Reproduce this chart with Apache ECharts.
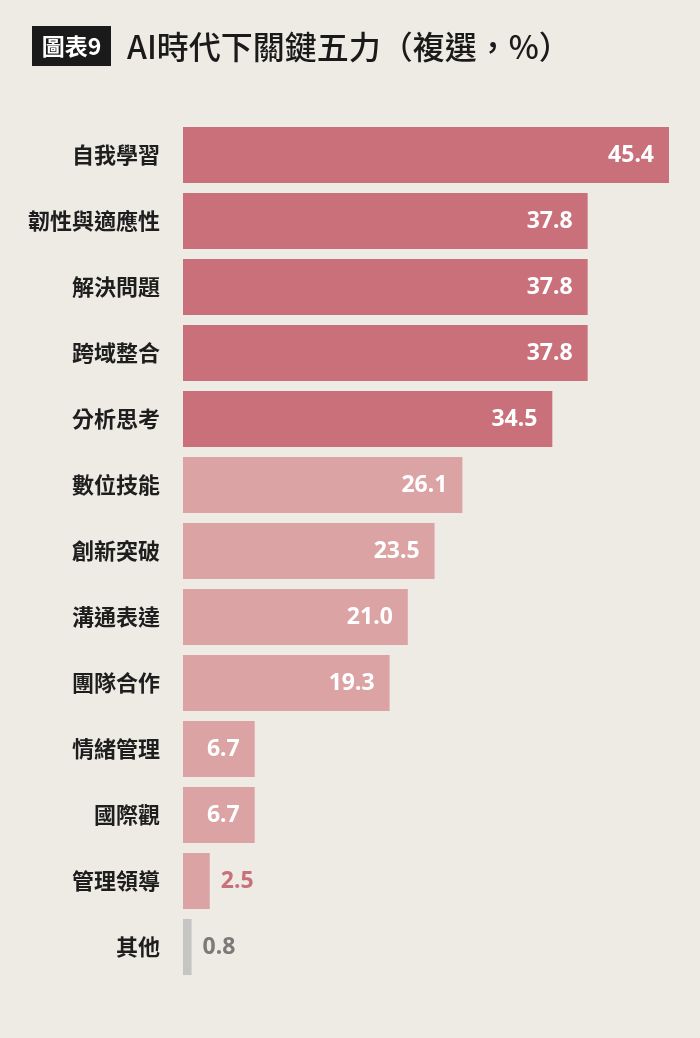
<!DOCTYPE html>
<html>
<head>
<meta charset="utf-8">
<script src="https://cdn.jsdelivr.net/npm/echarts@6/dist/echarts.min.js"></script>
<style>
html,body{margin:0;padding:0;background:#EEEBE4;}
#main{width:700px;height:1038px;}
</style>
</head>
<body>
<div id="main"></div>
<script>
const categories = ['自我學習','韌性與適應性','解決問題','跨域整合','分析思考','數位技能','創新突破','溝通表達','團隊合作','情緒管理','國際觀','管理領導','其他'];
const values = [45.4, 37.8, 37.8, 37.8, 34.5, 26.1, 23.5, 21.0, 19.3, 6.7, 6.7, 2.5, 0.8];
const titleTag = '圖表9';
const titleText = 'AI時代下關鍵五力（複選，%）';

const DARK = '#C9707B', LIGHT = '#DCA3A5', GRAY = '#C5C5C3';
function barColor(i){
  if (categories[i] === '其他') return GRAY;
  return i < 5 ? DARK : LIGHT;
}
const data = values.map((v, i) => {
  const inside = v >= 5;
  const c = barColor(i);
  return {
    value: v,
    itemStyle: { color: c },
    label: inside
      ? { position: 'insideRight', distance: 15, color: '#FFFFFF' }
      : { position: 'right', distance: 11, color: c === GRAY ? '#7A7A78' : DARK }
  };
});

const chart = echarts.init(document.getElementById('main'));
chart.setOption({
  backgroundColor: '#EEEBE4',
  animation: false,
  graphic: [
    { type: 'rect', shape: { x: 32, y: 26, width: 79, height: 40 }, style: { fill: '#1A1A1A' } },
    { type: 'text', x: 71.5, y: 46, style: { text: titleTag, fill: '#FFFFFF', font: 'bold 23px "Noto Sans CJK TC"', align: 'center', verticalAlign: 'middle' } },
    { type: 'text', x: 127, y: 47, style: { text: titleText, fill: '#1A1A1A', font: '500 32px "Noto Sans CJK TC"', align: 'left', verticalAlign: 'middle' } }
  ],
  grid: { left: 183, right: 31, top: 122, bottom: 58, containLabel: false },
  xAxis: { type: 'value', min: 0, max: 45.4, show: false },
  yAxis: {
    type: 'category', data: categories, inverse: true,
    axisLine: { show: false }, axisTick: { show: false },
    axisLabel: { margin: 23, color: '#1E1E1E', fontSize: 22, fontWeight: 'bold', fontFamily: '"Noto Sans CJK TC"' }
  },
  series: [{
    type: 'bar', data: data, barCategoryGap: '15%',
    label: { show: true, fontSize: 23, fontWeight: 'bold', fontFamily: '"Noto Sans", "Open Sans", sans-serif',
      formatter: p => p.value.toFixed(1) }
  }]
});
</script>
</body>
</html>
